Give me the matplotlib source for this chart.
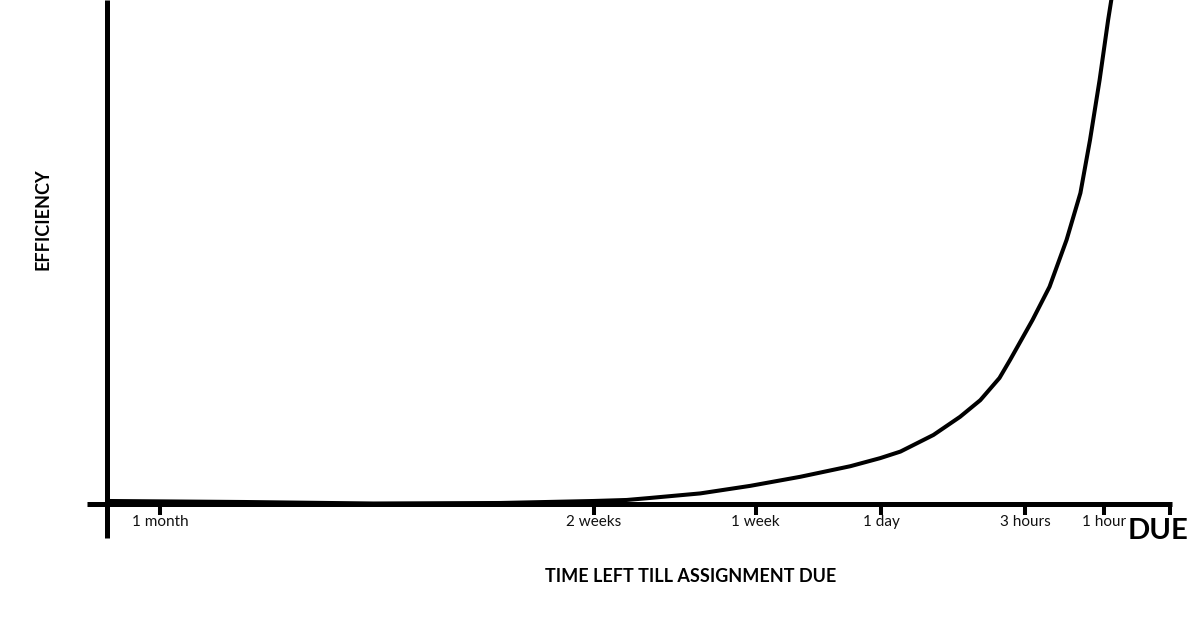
import matplotlib
matplotlib.use("Agg")
import matplotlib.pyplot as plt

plt.rcParams['font.family'] = ['Lato', 'DejaVu Sans']

# Timeline position (0 = start of axis, 100 = due) and efficiency (0..100)
curve_x = [0, 12.8, 25, 36.9, 45.7, 48.8, 51.0, 55.7, 60.4, 65.1, 69.8, 72.6, 74.5,
           77.6, 80.1, 82.0, 83.8, 84.8, 86.9, 88.5, 90.1, 91.4, 92.3, 93.2, 94.0,
           94.3, 94.4]
curve_y = [0.6, 0.4, 0.1, 0.2, 0.6, 0.8, 1.2, 2.1, 3.6, 5.4, 7.5, 9.1, 10.4,
           13.7, 17.3, 20.6, 25.0, 28.6, 36.5, 43.1, 52.4, 61.7, 72.2, 84.1, 96.0,
           100, 102]

tick_pos = [5.0, 45.7, 60.9, 72.7, 86.2, 93.6, 99.8]
tick_labels = ["1 month", "2 weeks", "1 week", "1 day", "3 hours", "1 hour", ""]

x_title = "TIME LEFT TILL ASSIGNMENT DUE"
y_title = "EFFICIENCY"
end_label = "DUE"

fig = plt.figure(figsize=(12, 6.3), dpi=100)
fig.patch.set_facecolor('white')
ax = fig.add_axes([107 / 1200, 0.2, (1172 - 107) / 1200, 0.8])
ax.set_xlim(0, 100)
ax.set_ylim(0, 100)
for s in ax.spines.values():
    s.set_visible(False)

# axis lines (hand-drawn style, extending past the origin)
ax.plot([-1.9, 100], [0, 0], color='black', lw=3.6, clip_on=False,
        solid_capstyle='butt')
ax.plot([0, 0], [-6.8, 100], color='black', lw=3.6, clip_on=False,
        solid_capstyle='butt')

# curve
ax.plot(curve_x, curve_y, color='black', lw=2.9, solid_capstyle='round',
        solid_joinstyle='round')

ax.set_yticks([])
ax.set_xticks(tick_pos)
ax.set_xticklabels(tick_labels, fontsize=11, color='#111111')
ax.tick_params(axis='x', direction='out', length=8, width=2.9, color='black', pad=0)

ax.text(98.7, -5.4, end_label, fontsize=21, fontweight='bold', ha='center',
        va='center', color='black', clip_on=False)

fig.text(691 / 1200, 1 - 577 / 630, x_title, fontsize=13, fontweight='bold',
         ha='center', va='center', color='black')
fig.text(43.5 / 1200, 1 - 219 / 630, y_title, fontsize=13, fontweight='bold',
         ha='center', va='center', rotation=90, color='black')

fig.savefig("out.png", dpi=100, facecolor='white')
